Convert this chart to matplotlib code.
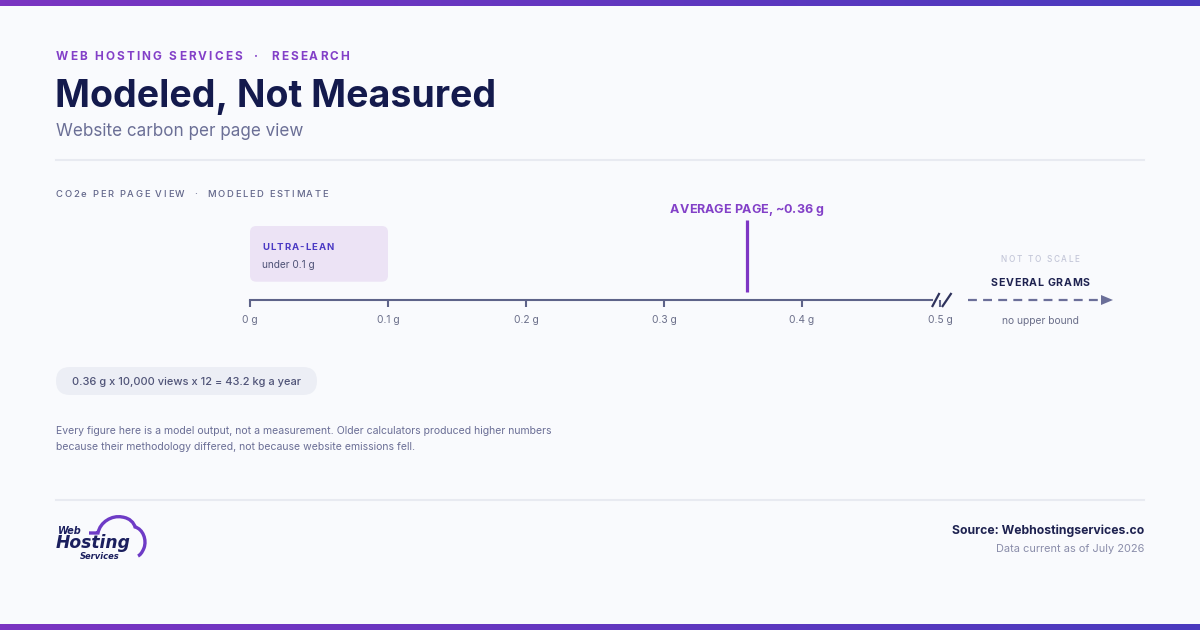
import matplotlib
matplotlib.use('Agg')
import matplotlib.pyplot as plt
import numpy as np
from matplotlib.patches import FancyBboxPatch, Polygon, PathPatch
from matplotlib.path import Path
from matplotlib.colors import LinearSegmentedColormap

plt.rcParams['font.family'] = ['Inter', 'DejaVu Sans']

# data
tick_vals = [0, 0.1, 0.2, 0.3, 0.4, 0.5]
tick_labels = ['0 g', '0.1 g', '0.2 g', '0.3 g', '0.4 g', '0.5 g']
avg_page = 0.36
avg_label = 'AVERAGE PAGE, ~0.36 g'
ultra_lean_max = 0.1
formula = '0.36 g x 10,000 views x 12 = 43.2 kg a year'
note_lines = ['Every figure here is a model output, not a measurement. Older calculators produced higher numbers',
              'because their methodology differed, not because website emissions fell.']

NAVY = '#141A4D'
PURPLE = '#8340C8'
GREY = '#6B6F96'
AXIS = '#5E6389'

W, H = 1200, 630
fig = plt.figure(figsize=(12, 6.3), dpi=100)
fig.patch.set_facecolor('#F9FAFD')

bg = fig.add_axes([0, 0, 1, 1])
bg.axis('off')
bg.set_zorder(3)
renderer = fig.canvas.get_renderer()


def tracked(x, y, s, size, color, weight='normal', spacing=0.0, ha='left'):
    # draw letter-spaced text, baseline at y (pixels)
    widths = []
    for ch in s:
        if ch == ' ':
            widths.append(size * 100 / 72 * 0.27)
        else:
            t = bg.text(0, 0, ch, fontsize=size, fontweight=weight)
            widths.append(t.get_window_extent(renderer).width)
            t.remove()
    total = sum(widths) + spacing * (len(s) - 1)
    if ha == 'center':
        x -= total / 2
    elif ha == 'right':
        x -= total
    for ch, w in zip(s, widths):
        if ch != ' ':
            bg.text(x, y, ch, fontsize=size, fontweight=weight, color=color,
                    ha='left', va='baseline')
        x += w + spacing


# gradient bars top and bottom
grad = np.linspace(0, 1, 256).reshape(1, -1)
cmap = LinearSegmentedColormap.from_list('bar', ['#7B34C2', '#4A3ABE'])
bg.imshow(grad, extent=[0, W, 6, 0], aspect='auto', cmap=cmap)
bg.imshow(grad, extent=[0, W, H, H - 6], aspect='auto', cmap=cmap)
bg.set_xlim(0, W)
bg.set_ylim(H, 0)

# header
tracked(56, 60, 'WEB HOSTING SERVICES  ·  RESEARCH', 8.5, PURPLE, weight='bold', spacing=2.1)
bg.text(55, 107, 'Modeled, Not Measured', fontsize=27.0, fontweight='bold', color=NAVY, va='baseline')
bg.text(56, 136, 'Website carbon per page view', fontsize=12.3, color=GREY, va='baseline')
bg.plot([56, 1144], [160, 160], color='#E8EAF1', lw=1.5)
tracked(56, 197, 'CO2e PER PAGE VIEW  ·  MODELED ESTIMATE', 6.8, '#62668A', weight='medium', spacing=1.65)

# scale axis
ax = fig.add_axes([250 / W, (H - 300) / H, 690 / W, 100 / H])
ax.set_zorder(2)
ax.set_xlim(0, 0.5)
ax.set_ylim(0, 1)
ax.patch.set_visible(False)
for s in ['top', 'left', 'right']:
    ax.spines[s].set_visible(False)
ax.spines['bottom'].set_color(AXIS)
ax.spines['bottom'].set_linewidth(1.5)
ax.spines['bottom'].set_bounds(0, 0.4945)
ax.set_yticks([])
ax.set_xticks(tick_vals, tick_labels)
ax.tick_params(axis='x', length=5, width=1.5, color=AXIS, pad=6,
               labelsize=7.4, labelcolor='#6B6F8A')

# ultra-lean band
box = FancyBboxPatch((0, 0.183), ultra_lean_max, 0.557,
                     boxstyle='round,pad=0,rounding_size=0.0045',
                     mutation_aspect=13.8, facecolor='#ECE3F5', edgecolor='none')
ax.add_patch(box)

# average marker
ax.vlines(avg_page, 0.083, 0.80, color='#7E36C4', lw=2.3)


def px(v):
    return ax.transData.transform((v, 0))[0]


tracked(px(avg_page), 212.7, avg_label, 9.0, PURPLE, weight='bold', spacing=-0.1, ha='center')
tracked(px(0) + 12, 250.3, 'ULTRA-LEAN', 6.9, '#4B3AC4', weight='bold', spacing=1.1)
bg.text(px(0) + 12, 267.5, 'under 0.1 g', fontsize=7.3, color='#4F5377', va='baseline')

# break marks
bg.plot([932, 939.5], [307, 293], color='#2E325C', lw=1.6, solid_capstyle='butt')
bg.plot([942, 951.5], [307, 293], color='#2E325C', lw=1.6, solid_capstyle='butt')

# beyond the break, not to scale
bg.plot([968, 1102], [300, 300], color='#6B6F99', lw=1.6, dashes=(4, 2.8))
bg.add_patch(Polygon([[1101, 295], [1113, 300], [1101, 305]], closed=True,
                     facecolor='#6B6F99', edgecolor='none'))
tracked(1040, 262, 'NOT TO SCALE', 5.9, '#C3C6D8', weight='medium', spacing=1.7, ha='center')
tracked(1040, 286, 'SEVERAL GRAMS', 7.6, '#1E2250', weight='bold', spacing=0.6, ha='center')
bg.text(1040, 323.5, 'no upper bound', fontsize=7.4, color='#6B6F8A', ha='center', va='baseline')

# formula pill
bg.add_patch(FancyBboxPatch((56, 367), 261, 28, boxstyle='round,pad=0,rounding_size=14',
                            facecolor='#ECEEF5', edgecolor='none'))
bg.text(186.5, 385, formula, fontsize=7.95, fontweight='medium', color='#4F5377',
        ha='center', va='baseline')

# footnote
bg.text(56, 434, note_lines[0], fontsize=7.55, color=GREY, va='baseline')
bg.text(56, 450.5, note_lines[1], fontsize=7.55, color=GREY, va='baseline')

# footer
bg.plot([56, 1144], [500, 500], color='#E8EAF1', lw=1.5)
bg.text(1144, 534, 'Source: Webhostingservices.co', fontsize=8.8, fontweight='bold',
        color='#1E2250', ha='right', va='baseline')
bg.text(1144, 552, 'Data current as of July 2026', fontsize=7.9, color='#8A8DAA',
        ha='right', va='baseline')

# logo
cloud = Path([(89, 533), (98, 533),
              (100, 522), (112, 515), (122, 517),
              (130, 518), (134, 523), (135, 527),
              (143, 529), (147, 540), (144, 548),
              (142, 553), (140, 555), (138, 556)],
             [Path.MOVETO, Path.LINETO] + [Path.CURVE4] * 12)
bg.add_patch(PathPatch(cloud, facecolor='none', edgecolor='#6E3BC6', lw=2.4))
bg.text(58, 533.5, 'Web', fontsize=7.0, fontweight='bold', fontstyle='oblique',
        family='DejaVu Sans', color='#1B1F5E', va='baseline')
bg.text(56, 547.5, 'Hosting', fontsize=12.3, fontweight='bold', fontstyle='oblique',
        family='DejaVu Sans', color='#1B1F5E', va='baseline')
bg.text(80, 559, 'Services', fontsize=6.0, fontweight='bold', fontstyle='oblique',
        family='DejaVu Sans', color='#1B1F5E', va='baseline')

fig.savefig('out.png', dpi=100, facecolor=fig.get_facecolor())
